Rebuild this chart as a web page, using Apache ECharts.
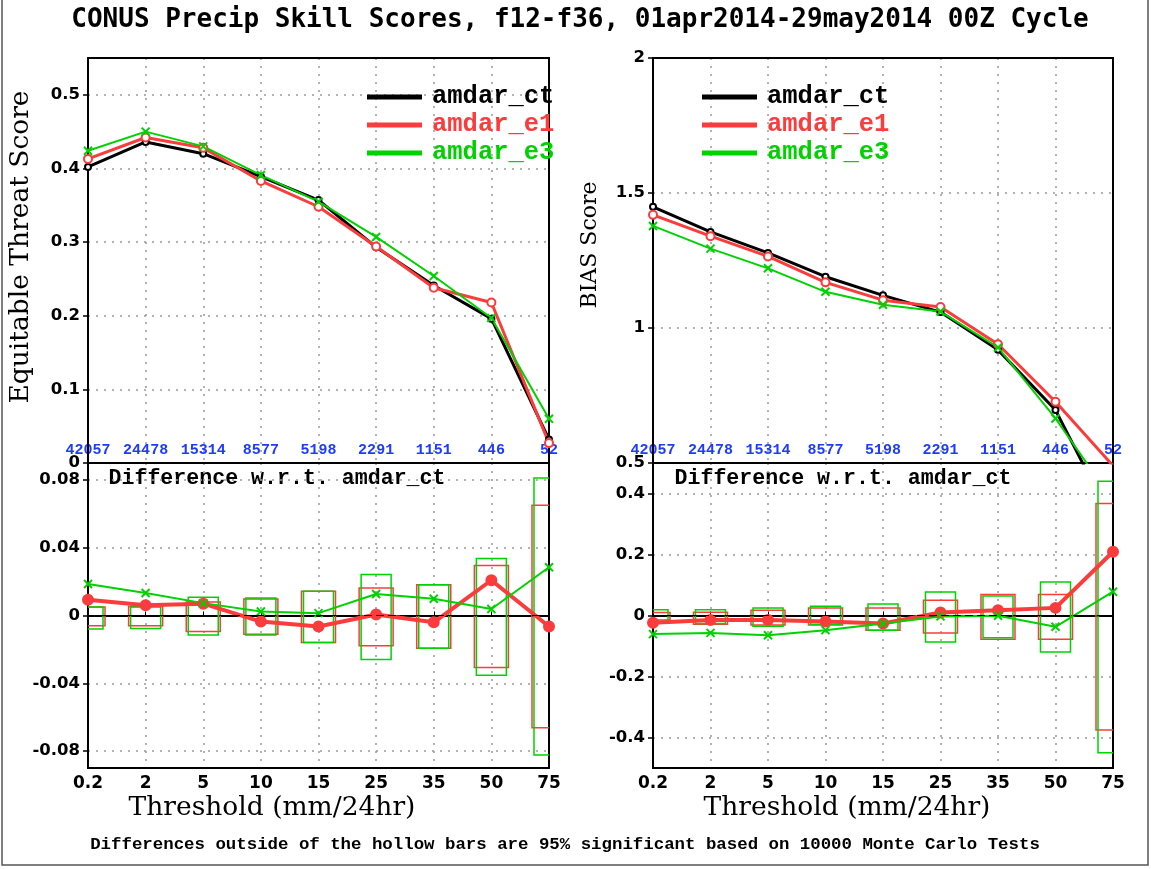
<!DOCTYPE html>
<html>
<head>
<meta charset="utf-8">
<title>CONUS Precip Skill Scores</title>
<script src="https://cdn.jsdelivr.net/npm/echarts@6/dist/echarts.min.js"></script>
<style>
html, body { margin: 0; padding: 0; background: #fff; }
#main { width: 1151px; height: 869px; }
</style>
</head>
<body>
<div id="main"></div>
<script>
// thresholds (mm/24hr) and observed counts per threshold
var thresholds = ['0.2', '2', '5', '10', '15', '25', '35', '50', '75'];
var obsCounts = ['42057', '24478', '15314', '8577', '5198', '2291', '1151', '446', '52'];

// equitable threat score
var etsCt = [0.402, 0.436, 0.420, 0.389, 0.357, 0.293, 0.241, 0.196, 0.032];
var etsE1 = [0.413, 0.442, 0.428, 0.383, 0.348, 0.294, 0.238, 0.218, 0.027];
var etsE3 = [0.424, 0.450, 0.430, 0.391, 0.355, 0.307, 0.254, 0.197, 0.060];

// bias score
var biasCt = [1.449, 1.356, 1.278, 1.190, 1.121, 1.059, 0.919, 0.696, 0.280];
var biasE1 = [1.419, 1.340, 1.265, 1.169, 1.103, 1.078, 0.940, 0.727, 0.490];
var biasE3 = [1.378, 1.294, 1.221, 1.134, 1.086, 1.061, 0.928, 0.665, 0.360];

// differences w.r.t. amdar_ct
var etsDiffE1 = [0.0093, 0.0060, 0.0070, -0.0036, -0.0065, 0.0006, -0.0040, 0.0208, -0.0065];
var etsDiffE3 = [0.0186, 0.0133, 0.0073, 0.0024, 0.0014, 0.0127, 0.0099, 0.0038, 0.0285];
var biasDiffE1 = [-0.0235, -0.0145, -0.0145, -0.020, -0.026, 0.010, 0.017, 0.025, 0.209];
var biasDiffE3 = [-0.061, -0.057, -0.065, -0.048, -0.026, -0.003, -0.001, -0.037, 0.078];

// hollow bars (95% significance), [low, high]
var etsBarE1 = [[-0.006, 0.005], [-0.006, 0.0053], [-0.0095, 0.0079], [-0.011, 0.0097], [-0.016, 0.0143],
                [-0.0178, 0.0162], [-0.0194, 0.0182], [-0.0307, 0.0295], [-0.0663, 0.0651]];
var etsBarE3 = [[-0.008, 0.005], [-0.0077, 0.005], [-0.0115, 0.0107], [-0.0115, 0.0103], [-0.016, 0.0143],
                [-0.026, 0.0242], [-0.0194, 0.0182], [-0.0352, 0.0337], [-0.0824, 0.0812]];
var biasBarE1 = [[-0.015, 0.010], [-0.029, 0.011], [-0.031, 0.017], [-0.031, 0.025], [-0.048, 0.025],
                 [-0.057, 0.050], [-0.078, 0.069], [-0.078, 0.069], [-0.375, 0.367]];
var biasBarE3 = [[-0.020, 0.019], [-0.026, 0.019], [-0.035, 0.025], [-0.029, 0.030], [-0.048, 0.038],
                 [-0.087, 0.077], [-0.073, 0.064], [-0.120, 0.110], [-0.450, 0.440]];

var etsDiffTicks = [-0.08, -0.04, 0, 0.04, 0.08];
var biasDiffTicks = [-0.4, -0.2, 0, 0.2, 0.4];

var RED = '#fa3c3c', GREEN = '#00d200', BLUE = '#1e3cff';
var xMark = 'path://M0,0L10,10M10,0L0,10';

var myChart = echarts.init(document.getElementById('main'));

var dotted = { show: true, lineStyle: { color: '#999', type: [2, 6], width: 1.5 } };

function xAxisTop(gi) {
    return {
        gridIndex: gi, type: 'category', data: thresholds, boundaryGap: false,
        axisLine: { lineStyle: { color: '#000', width: 2 } },
        axisTick: { show: false },
        axisLabel: {
            inside: true, interval: 0, margin: 5, color: BLUE,
            fontFamily: 'Liberation Mono', fontWeight: 'bold', fontSize: 15,
            formatter: function (v, i) { return obsCounts[i]; }
        },
        splitLine: dotted
    };
}
function xAxisBottom(gi) {
    return {
        gridIndex: gi, type: 'category', data: thresholds, boundaryGap: false,
        axisLine: { lineStyle: { color: '#000', width: 2 } },
        axisTick: { show: true, inside: true, length: 4, lineStyle: { color: '#000' } },
        axisLabel: { interval: 0, margin: 7, color: '#000', fontFamily: 'DejaVu Sans', fontWeight: 'bold', fontSize: 17 },
        splitLine: dotted
    };
}
var yLabel = { color: '#000', fontFamily: 'DejaVu Sans', fontWeight: 'bold', fontSize: 16.5, margin: 8 };
var yLine = { show: true, lineStyle: { color: '#000', width: 2 } };
var yTick = { show: true, length: 5, lineStyle: { color: '#000', width: 1.5 } };

function lineSeries(name, gi, data, color, width, symbol, size) {
    return {
        name: name, type: 'line', xAxisIndex: gi, yAxisIndex: gi, data: data,
        symbol: symbol, symbolSize: size, showSymbol: true,
        lineStyle: { color: color, width: width },
        itemStyle: { color: color, borderColor: color, borderWidth: 2 },
        emphasis: { disabled: true }, animation: false
    };
}
function barSeries(name, gi, bars, color, halfWidth) {
    return {
        name: name, type: 'custom', xAxisIndex: gi, yAxisIndex: gi, clip: true,
        data: bars.map(function (b, i) { return [i, b[0], b[1]]; }),
        encode: { x: 0, y: [1, 2] },
        renderItem: function (params, api) {
            var hi = api.coord([api.value(0), api.value(2)]);
            var lo = api.coord([api.value(0), api.value(1)]);
            return {
                type: 'rect',
                shape: { x: hi[0] - halfWidth, y: hi[1], width: halfWidth * 2, height: lo[1] - hi[1] },
                style: { fill: 'none', stroke: color, lineWidth: 1.5 }
            };
        },
        animation: false, silent: true
    };
}
var zeroLine = {
    silent: true, symbol: 'none', label: { show: false },
    lineStyle: { color: '#000', type: [8, 4], width: 1.2 },
    data: [{ yAxis: 0 }]
};

function legendFor(left) {
    return {
        left: left, top: 79, orient: 'vertical', icon: 'rect', itemWidth: 53, itemHeight: 3, itemGap: 2,
        selectedMode: false,
        textStyle: { fontFamily: 'Liberation Mono', fontWeight: 'bold', fontSize: 25.5, lineHeight: 25, padding: [0, 0, 0, 6] },
        data: [
            { name: 'amdar_ct', textStyle: { color: '#000' } },
            { name: 'amdar_e1', textStyle: { color: RED } },
            { name: 'amdar_e3', textStyle: { color: GREEN } }
        ]
    };
}

function txt(x, y, text, font, extra) {
    var el = { type: 'text', x: x, y: y, silent: true,
        style: { text: text, font: font, fill: '#000', align: 'center', verticalAlign: 'middle' } };
    if (extra) { for (var k in extra) el[k] = extra[k]; }
    return el;
}

function gridAt(left, top, width, height) {
    return { left: left, top: top, width: width, height: height, z: 1, show: true,
             borderColor: '#000', borderWidth: 2, outerBoundsMode: 'none' };
}

var option = {
    backgroundColor: '#fff',
    animation: false,
    grid: [gridAt(88, 58, 461, 405), gridAt(88, 463, 461, 305), gridAt(653, 58, 460, 405), gridAt(653, 463, 460, 305)],
    legend: [legendFor(362), legendFor(697)],
    xAxis: [xAxisTop(0), xAxisBottom(1), xAxisTop(2), xAxisBottom(3)],
    yAxis: [
        { gridIndex: 0, type: 'value', min: 0, max: 0.55, interval: 0.1,
          axisLine: yLine, axisTick: yTick, axisLabel: Object.assign({ showMaxLabel: false }, yLabel), splitLine: dotted },
        { gridIndex: 1, type: 'value', min: -0.09, max: 0.09,
          axisLine: yLine, axisTick: Object.assign({ customValues: etsDiffTicks }, yTick),
          axisLabel: Object.assign({ customValues: etsDiffTicks }, yLabel), splitLine: dotted },
        { gridIndex: 2, type: 'value', min: 0.5, max: 2, interval: 0.5,
          axisLine: yLine, axisTick: yTick, axisLabel: yLabel, splitLine: dotted },
        { gridIndex: 3, type: 'value', min: -0.5, max: 0.5,
          axisLine: yLine, axisTick: Object.assign({ customValues: biasDiffTicks }, yTick),
          axisLabel: Object.assign({ customValues: biasDiffTicks }, yLabel), splitLine: dotted }
    ],
    series: [
        lineSeries('amdar_ct', 0, etsCt, '#000', 3, 'emptyCircle', 6),
        lineSeries('amdar_e1', 0, etsE1, RED, 3, 'emptyCircle', 8),
        lineSeries('amdar_e3', 0, etsE3, GREEN, 2, xMark, 8),

        barSeries('ets bar e1', 1, etsBarE1, RED, 17),
        barSeries('ets bar e3', 1, etsBarE3, GREEN, 15),
        Object.assign(lineSeries('ets diff e1', 1, etsDiffE1, RED, 4, 'circle', 10), { markLine: zeroLine }),
        lineSeries('ets diff e3', 1, etsDiffE3, GREEN, 2, xMark, 8),

        lineSeries('amdar_ct', 2, biasCt, '#000', 3, 'emptyCircle', 6),
        lineSeries('amdar_e1', 2, biasE1, RED, 3, 'emptyCircle', 8),
        lineSeries('amdar_e3', 2, biasE3, GREEN, 2, xMark, 8),

        barSeries('bias bar e1', 3, biasBarE1, RED, 17),
        barSeries('bias bar e3', 3, biasBarE3, GREEN, 15),
        Object.assign(lineSeries('bias diff e1', 3, biasDiffE1, RED, 4, 'circle', 10), { markLine: zeroLine }),
        lineSeries('bias diff e3', 3, biasDiffE3, GREEN, 2, xMark, 8)
    ],
    graphic: [
        { type: 'rect', silent: true, shape: { x: 2, y: -2, width: 1146, height: 867 },
          style: { fill: 'none', stroke: '#555', lineWidth: 1.5 } },
        txt(580, 20, 'CONUS Precip Skill Scores, f12-f36, 01apr2014-29may2014 00Z Cycle', 'bold 26px "DejaVu Sans Mono"'),
        txt(21, 247, 'Equitable Threat Score', '26.5px "DejaVu Serif"', { rotation: Math.PI / 2 }),
        txt(590, 245, 'BIAS Score', '22px "DejaVu Serif"', { rotation: Math.PI / 2 }),
        txt(277, 479, 'Difference w.r.t. amdar_ct', 'bold 21.6px "Liberation Mono"'),
        txt(843, 479, 'Difference w.r.t. amdar_ct', 'bold 21.6px "Liberation Mono"'),
        txt(272, 808, 'Threshold (mm/24hr)', '26.5px "DejaVu Serif"'),
        txt(847, 808, 'Threshold (mm/24hr)', '26.5px "DejaVu Serif"'),
        txt(565, 845, 'Differences outside of the hollow bars are 95% significant based on 10000 Monte Carlo Tests', 'bold 17.4px "Liberation Mono"')
    ]
};

myChart.setOption(option);
</script>
</body>
</html>
